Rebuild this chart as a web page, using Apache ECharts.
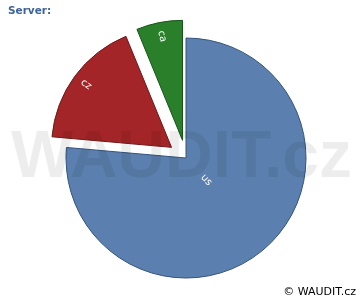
<!DOCTYPE html>
<html>
<head>
<meta charset="utf-8">
<script src="https://cdn.jsdelivr.net/npm/echarts@6/dist/echarts.min.js"></script>
<style>html,body{margin:0;padding:0;background:#fff}#c{width:360px;height:300px}</style>
</head>
<body>
<div id="c"></div>
<script>
var categories = ['us', 'cz', 'ca'];
var values = [76.4, 17.4, 6.2];
var exploded = [false, true, true];
var colors = ['#5b80af', '#a32527', '#2a802a'];
var borders = ['#34527a', '#6e1718', '#185418'];

var chart = echarts.init(document.getElementById('c'), null, {renderer: 'canvas'});

function makeData(mode) {
  return categories.map(function (name, i) {
    var item = {name: name, value: values[i], selected: exploded[i]};
    if (mode === 'main') {
      item.itemStyle = {color: colors[i], borderColor: borders[i], borderWidth: 1};
    } else {
      var show = (mode === 'outerLabel') ? exploded[i] : !exploded[i];
      item.itemStyle = {color: 'rgba(0,0,0,0)', borderWidth: 0};
      item.label = {show: show};
    }
    return item;
  });
}

var common = {
  type: 'pie',
  center: [186, 158],
  startAngle: 90,
  clockwise: true,
  selectedMode: 'multiple',
  selectedOffset: 18,
  avoidLabelOverlap: false,
  minAngle: 0,
  padAngle: 0,
  animation: false,
  emphasis: {disabled: true},
  labelLine: {show: false}
};

chart.setOption({
  animation: false,
  title: {
    text: 'Server:',
    left: 3, top: 1,
    textStyle: {color: '#3d6399', fontSize: 10.5, fontWeight: 'bold', fontFamily: 'DejaVu Sans'}
  },
  graphic: [
    {
      type: 'text', left: 11, top: 126, z: 100, silent: true,
      style: {text: 'WAUDIT.cz', fill: 'rgba(0,0,0,0.07)', font: 'bold 66px "Liberation Sans"'}
    },
    {
      type: 'text', right: 4, bottom: 2, z: 100, silent: true,
      style: {text: '\u00a9 WAUDIT.cz', fill: '#000', font: '11px "DejaVu Sans"'}
    }
  ],
  series: [
    Object.assign({}, common, {
      name: 'main', radius: [0, 120], z: 2,
      label: {show: false},
      data: makeData('main')
    }),
    Object.assign({}, common, {
      name: 'outerLabels', radius: [86, 120], z: 3, silent: true,
      label: {position: 'inside', rotate: 'radial', color: '#fff', fontSize: 10, fontFamily: 'DejaVu Sans'},
      data: makeData('outerLabel')
    }),
    Object.assign({}, common, {
      name: 'innerLabels', radius: [0, 54], z: 3, silent: true,
      label: {position: 'inside', rotate: 'radial', color: '#fff', fontSize: 10, fontFamily: 'DejaVu Sans'},
      data: makeData('innerLabel')
    })
  ]
});
</script>
</body>
</html>
